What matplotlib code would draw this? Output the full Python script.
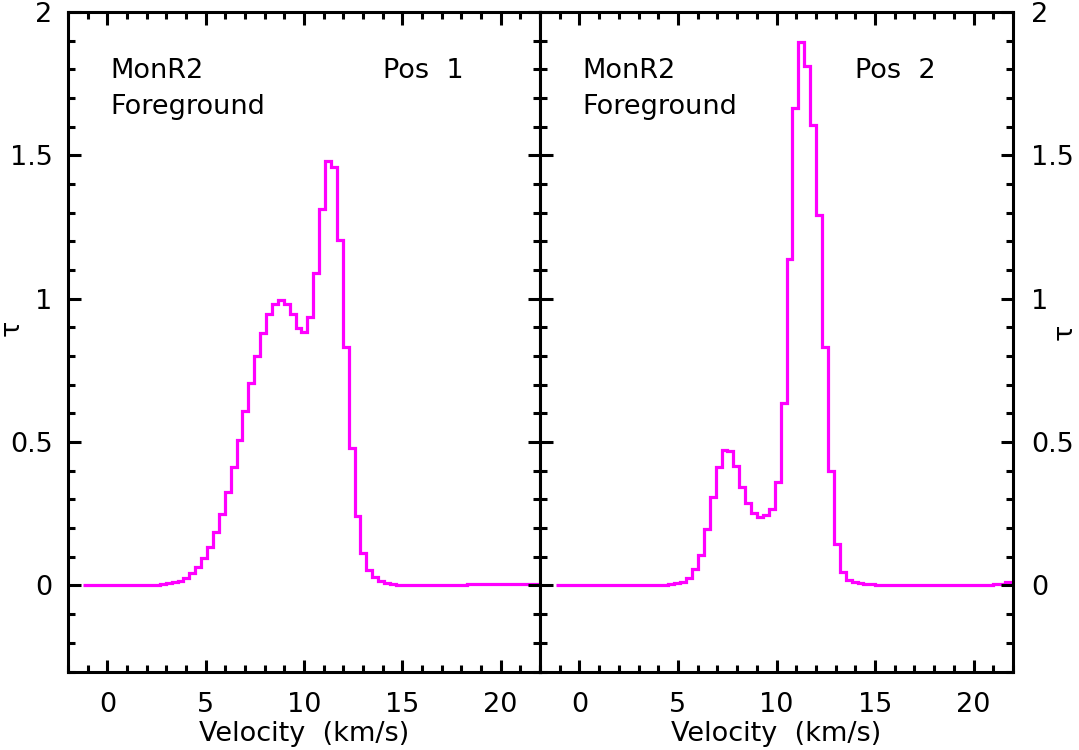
import matplotlib
matplotlib.use("Agg")
import matplotlib.pyplot as plt
from matplotlib.ticker import MultipleLocator, FormatStrFormatter

# channel edges (km/s) and optical depth per channel
edges1 = [-1.23, 2.67, 2.97, 3.27, 3.57, 3.87, 4.17, 4.47, 4.77, 5.07, 5.37,
          5.67, 5.97, 6.27, 6.57, 6.87, 7.17, 7.47, 7.77, 8.07, 8.37, 8.67,
          8.97, 9.27, 9.57, 9.87, 10.17, 10.47, 10.77, 11.07, 11.37, 11.67,
          11.97, 12.27, 12.57, 12.87, 13.17, 13.47, 13.77, 14.07, 14.37,
          14.67, 14.97, 17.07, 18.27, 22.2]
tau1 = [0.0, 0.005, 0.007, 0.012, 0.017, 0.026, 0.043, 0.065, 0.097, 0.134,
        0.186, 0.248, 0.326, 0.413, 0.506, 0.609, 0.706, 0.799, 0.881, 0.946,
        0.983, 0.997, 0.983, 0.948, 0.899, 0.884, 0.937, 1.090, 1.312, 1.481,
        1.460, 1.206, 0.830, 0.480, 0.241, 0.113, 0.055, 0.030, 0.017, 0.010,
        0.005, 0.003, 0.0, 0.003, 0.006]

edges2 = [-1.19, 4.51, 4.81, 5.11, 5.41, 5.71, 6.01, 6.31, 6.61, 6.91, 7.21,
          7.51, 7.81, 8.11, 8.41, 8.71, 9.01, 9.31, 9.61, 9.91, 10.21, 10.51,
          10.81, 11.11, 11.41, 11.71, 12.01, 12.31, 12.61, 12.91, 13.21, 13.51,
          13.81, 14.11, 14.41, 15.01, 18.01, 19.81, 21.01, 21.61, 22.2]
tau2 = [0.0, 0.004, 0.008, 0.012, 0.025, 0.056, 0.106, 0.196, 0.308, 0.412,
        0.471, 0.468, 0.415, 0.343, 0.287, 0.252, 0.238, 0.245, 0.266, 0.362,
        0.637, 1.137, 1.664, 1.894, 1.812, 1.606, 1.292, 0.831, 0.398, 0.143,
        0.048, 0.019, 0.011, 0.008, 0.004, 0.0, 0.003, 0.001, 0.006, 0.012]

labels = ["Pos  1", "Pos  2"]

plt.rcParams['font.family'] = 'DejaVu Sans'
plt.rcParams['font.size'] = 19.5

fig = plt.figure(figsize=(10.79, 7.5), dpi=100)
ax1 = fig.add_axes([68/1079, 1-671.5/750, 472/1079, 659.5/750])
ax2 = fig.add_axes([540/1079, 1-671.5/750, 473/1079, 659.5/750])

for ax, e, t, lab in [(ax1, edges1, tau1, labels[0]), (ax2, edges2, tau2, labels[1])]:
    ax.stairs(t, e, baseline=None, color='#ff00ff', linewidth=2.3)
    ax.set_xlim(-2, 22)
    ax.set_ylim(-0.3, 2)
    ax.xaxis.set_major_locator(MultipleLocator(5))
    ax.xaxis.set_minor_locator(MultipleLocator(1))
    ax.yaxis.set_major_locator(MultipleLocator(0.5))
    ax.yaxis.set_minor_locator(MultipleLocator(0.1))
    ax.yaxis.set_major_formatter(FormatStrFormatter('%g'))
    ax.tick_params(which='both', direction='in', top=True, right=True,
                   width=2.2, color='black')
    ax.tick_params(which='major', length=9)
    ax.tick_params(which='minor', length=5)
    ax.tick_params(axis='x', which='major', pad=15)
    for s in ax.spines.values():
        s.set_linewidth(2.2)
    ax.set_xlabel('Velocity  (km/s)', labelpad=2)
    ax.text(0.089, 0.900, 'MonR2', transform=ax.transAxes)
    ax.text(0.089, 0.846, 'Foreground', transform=ax.transAxes)
    ax.text(0.667, 0.900, lab, transform=ax.transAxes)

ax1.tick_params(axis='y', which='major', pad=11)
ax2.tick_params(axis='y', labelleft=False, labelright=True)
ax2.tick_params(axis='y', which='major', pad=13)

# tau labels placed by hand, the reference puts them close to the edges
fig.text(12/1079, 1-328/750, 'τ', rotation=90, ha='center', va='center')
fig.text(1065/1079, 1-332/750, 'τ', rotation=90, ha='center', va='center')

fig.savefig('out.png', dpi=100)
